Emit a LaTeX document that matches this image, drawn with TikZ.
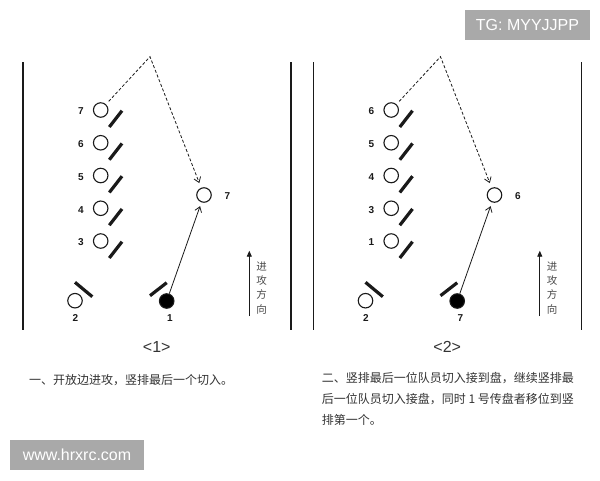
\documentclass[tikz,border=0pt]{standalone}
\usepackage{fontspec}
\setmainfont{Liberation Sans}
\newfontfamily\cjk{Noto Sans CJK SC}
\usetikzlibrary{arrows.meta}
\definecolor{wmgray}{HTML}{A9A9A9}
\definecolor{ink}{HTML}{1A1A1A}
\definecolor{captxt}{HTML}{333333}
\definecolor{vtxt}{HTML}{4A4A4A}
\begin{document}
\begin{tikzpicture}[x=1pt,y=-1pt,
  player/.style={circle,draw=ink,line width=1.1pt,minimum size=14.5pt,inner sep=0pt},
  holder/.style={player,fill=black},
  num/.style={font=\bfseries\fontsize{10}{12}\selectfont,text=ink,inner sep=0pt},
  bar/.style={line width=3.2pt,draw=ink},
  sideline/.style={line width=1.8pt,draw=ink},
  cutpath/.style={draw=ink,dash pattern=on 3pt off 2pt,line width=0.8pt,-{Straight Barb[length=5pt,width=7pt]}},
  passpath/.style={draw=ink,line width=0.8pt,-{Straight Barb[length=5pt,width=7pt]}},
  dirarrow/.style={draw=ink,line width=0.9pt,-{Triangle[length=6pt,width=5pt]}},
  vtext/.style={font=\cjk\fontsize{10.5}{14.2}\selectfont,text=vtxt,align=center,inner sep=0pt},
  paneltitle/.style={font=\fontsize{16}{18}\selectfont,text=captxt,inner sep=0pt},
  caption/.style={font=\cjk\fontsize{12}{14}\selectfont,text=captxt,anchor=west,inner sep=0pt},
  wmbox/.style={fill=wmgray,text=white,font=\fontsize{16}{18}\selectfont,inner sep=0pt}]
\fill[white] (0,0) rectangle (600,480);
\useasboundingbox (0,0) rectangle (600,480);

\foreach \sx/\pf/\la/\lb/\lc/\ld/\le/\tg/\bt/\cp in {0/p/7/6/5/4/3/7/1/1, 290.5/q/6/5/4/3/1/6/7/2}{
  \begin{scope}[shift={(\sx,0)}]
    % side lines
    \draw[sideline] (23,62) -- (23,330);
    \draw[sideline] (291,62) -- (291,330);
    % column
    \foreach \i/\l in {0/\la,1/\lb,2/\lc,3/\ld,4/\le}{
      \node[player] (\pf c\i) at (100.7,110+32.75*\i) {};
      \node[num] (\pf n\i) at (81,111.5+32.75*\i) {\l};
      \draw[bar] (109.3,127+32.75*\i) -- (122,110.7+32.75*\i);
    }
    % target
    \node[player] (\pf t) at (204,195) {};
    \node[num] (\pf tl) at (227.5,196.5) {\tg};
    \coordinate (\pf apex) at (150,56.7);
    % holder
    \node[holder] (\pf h) at (166.7,301) {};
    \node[num] (\pf hl) at (170,318) {\bt};
    \draw[bar] (150,295.7) -- (166.7,282.7);
    % player 2
    \node[player] (\pf b) at (75,300.7) {};
    \node[num] (\pf bl) at (75.5,318) {2};
    \draw[bar] (75,282.3) -- (92.3,296.7);
    % paths
    \draw[cutpath,shorten <=4pt,shorten >=5pt] (\pf c0) -- (\pf apex) -- (\pf t);
    \draw[passpath,shorten >=4pt] (\pf h) -- (\pf t);
    % direction
    \coordinate (\pf d0) at (249.3,316);
    \coordinate (\pf d1) at (249.3,250.7);
    \draw[dirarrow] (\pf d0) -- (\pf d1);
    \node[vtext] (\pf dt) at (261.7,288) {进\\攻\\方\\向};
    \node[paneltitle] (\pf title) at (156.7,346.7) {<\cp>};
  \end{scope}
}

\node[caption] (cap1) at (29,380) {一、开放边进攻，竖排最后一个切入。};
\node[caption] (cap2a) at (321.7,378.3) {二、竖排最后一位队员切入接到盘，继续竖排最};
\node[caption] (cap2b) at (321.7,399.3) {后一位队员切入接盘，同时 1 号传盘者移位到竖};
\node[caption] (cap2c) at (321.7,420) {排第一个。};

\node[wmbox,minimum width=125pt,minimum height=29.5pt] (wm1) at (527.5,24.8) {TG: MYYJJPP};
\node[wmbox,minimum width=134pt,minimum height=30pt] (wm2) at (77,455) {www.hrxrc.com};
\end{tikzpicture}
\end{document}
